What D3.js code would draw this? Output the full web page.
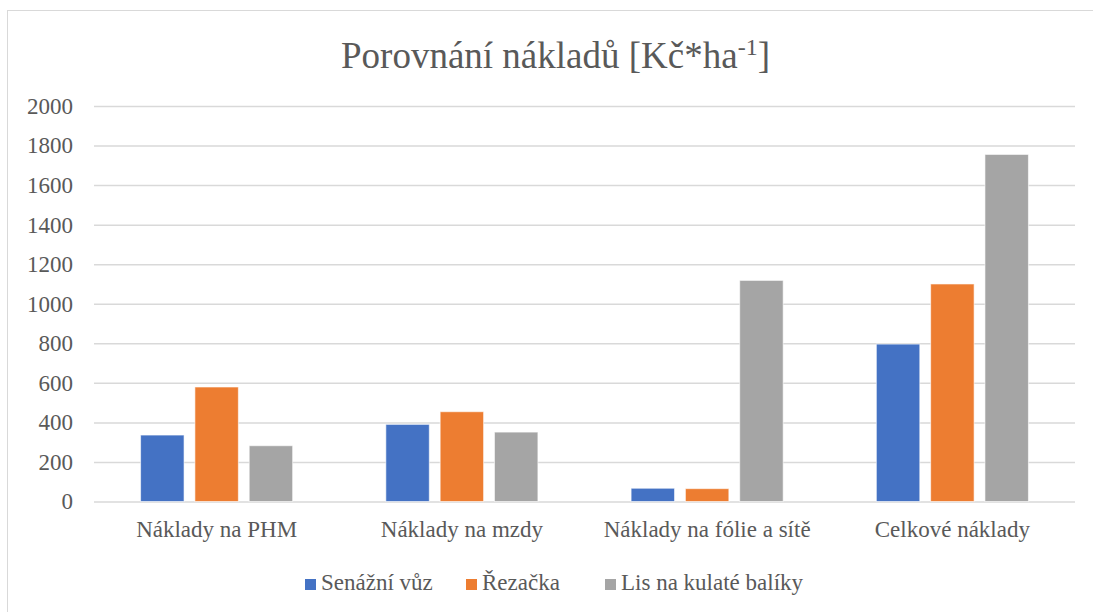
<!DOCTYPE html>
<html>
<head>
<meta charset="utf-8">
<script src="https://cdn.jsdelivr.net/npm/d3@7"></script>
<style>
    @font-face { font-family: "ChartSerif"; src: local("Liberation Serif"), local("LiberationSerif"), local("Tinos"), local("Times New Roman"); }
    body { margin: 0; background: #fff; }
    text { fill: #595959; }
</style>
</head>
<body>
<svg width="1093" height="612"></svg>
<script>
// data
var categories = ["Náklady na PHM", "Náklady na mzdy", "Náklady na fólie a sítě", "Celkové náklady"];
var seriesNames = ["Senážní vůz", "Řezačka", "Lis na kulaté balíky"];
var seriesColors = ["#4472c4", "#ed7d31", "#a5a5a5"];
var senazniVuz = [336, 390, 67, 796];
var rezacka = [579, 454, 65, 1100];
var lisBaliky = [282, 351, 1118, 1755];
var yTicks = [0, 200, 400, 600, 800, 1000, 1200, 1400, 1600, 1800, 2000];

var seriesValues = [senazniVuz, rezacka, lisBaliky];
var FONT = "'Times New Roman', 'Liberation Serif', Tinos, ChartSerif, serif";

var svg = d3.select("svg"),
    width = +svg.attr("width"),
    height = +svg.attr("height");

var margin = {left: 94, right: 18, top: 106, bottom: 110.5};

// chart area border
svg.append("rect")
    .attr("x", 7.5).attr("y", 10.5)
    .attr("width", 1100).attr("height", 700)
    .attr("fill", "none")
    .attr("stroke", "#d9d9d9");

var x0 = d3.scaleBand()
    .domain(categories)
    .range([margin.left, width - margin.right])
    .paddingInner(0.38)
    .paddingOuter(0.19);

var x1 = d3.scaleBand()
    .domain(d3.range(seriesNames.length))
    .range([0, x0.bandwidth()])
    .paddingInner(0.2);

var y = d3.scaleLinear()
    .domain([0, 2000])
    .range([height - margin.bottom, margin.top]);

// gridlines
var grid = svg.append("g")
    .attr("transform", "translate(" + margin.left + ",0)")
    .call(d3.axisLeft(y).tickValues(yTicks).tickSize(-(width - margin.right - margin.left)).tickFormat(""));
grid.select(".domain").remove();
grid.selectAll("line").attr("stroke", "#d9d9d9").attr("stroke-width", 1.5);

// y labels
var yAxis = svg.append("g")
    .attr("transform", "translate(" + margin.left + ",0)")
    .call(d3.axisLeft(y).tickValues(yTicks).tickSize(0).tickPadding(21).tickFormat(d3.format("d")));
yAxis.select(".domain").remove();

// bars
var groups = svg.append("g")
    .selectAll("g")
    .data(categories)
    .enter().append("g")
    .attr("transform", function (d) {
        return "translate(" + x0(d) + ",0)";
    });

groups.selectAll("rect")
    .data(function (d, i) {
        return seriesValues.map(function (s, k) {
            return {k: k, value: s[i]};
        });
    })
    .enter().append("rect")
    .attr("x", function (d) { return x1(d.k); })
    .attr("y", function (d) { return y(d.value); })
    .attr("width", x1.bandwidth())
    .attr("height", function (d) { return y(0) - y(d.value); })
    .attr("fill", function (d) { return seriesColors[d.k]; })
    .attr("stroke", "#fff")
    .attr("stroke-opacity", 0.6)
    .attr("stroke-width", 1);

// x labels
var xAxis = svg.append("g")
    .attr("transform", "translate(0," + y(0) + ")")
    .call(d3.axisBottom(x0).tickSize(0).tickPadding(19));
xAxis.select(".domain").remove();

// title
var title = svg.append("text")
    .attr("x", width / 2 + 9)
    .attr("y", 68)
    .attr("text-anchor", "middle")
    .attr("class", "big");
title.append("tspan").text("Porovnání nákladů [Kč*ha");
title.append("tspan").text("-1").attr("dy", -13).style("font-size", "24px");
title.append("tspan").text("]").attr("dy", 13);

// legend
var legendX = [305, 466, 605];
var legend = svg.append("g")
    .selectAll("g")
    .data(seriesNames)
    .enter().append("g")
    .attr("transform", function (d, i) {
        return "translate(" + legendX[i] + ",579)";
    });
legend.append("rect")
    .attr("width", 11).attr("height", 11)
    .attr("fill", function (d, i) { return seriesColors[i]; });
legend.append("text")
    .attr("x", 16).attr("y", 11)
    .text(function (d) { return d; });

// fonts for every label, set once at the end
svg.selectAll("text")
    .style("font-family", FONT)
    .style("font-size", function () {
        return this.getAttribute("class") === "big" ? "37px" : "23px";
    })
    .attr("fill", "#595959");
svg.selectAll("g").attr("font-family", null);
</script>
</body>
</html>
